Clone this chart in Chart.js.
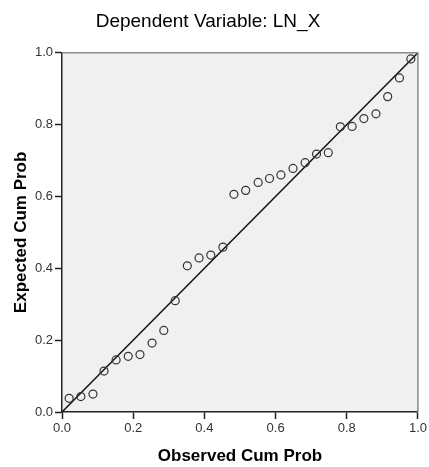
<!DOCTYPE html>
<html>
<head>
<meta charset="utf-8">
<script src="https://cdn.jsdelivr.net/npm/chart.js@4.4.1/dist/chart.umd.min.js"></script>
<style>
  html, body { margin: 0; padding: 0; background: #fff; }
  #wrap { width: 429px; height: 467px; }
</style>
</head>
<body>
<div id="wrap"><canvas id="ppPlot"></canvas></div>
<script>
// observed vs expected cumulative probability
const observedCum = [0.02, 0.053, 0.087, 0.118, 0.152, 0.186, 0.219, 0.253, 0.286, 0.318, 0.352, 0.385, 0.418, 0.452,
  0.483, 0.516, 0.551, 0.583, 0.615, 0.649, 0.683, 0.715, 0.748, 0.782, 0.815, 0.848, 0.882, 0.915, 0.948, 0.98]
const expectedCum = [0.038, 0.043, 0.05, 0.114, 0.145, 0.155, 0.16, 0.192, 0.227, 0.31, 0.407, 0.429, 0.437, 0.459,
  0.606, 0.617, 0.639, 0.65, 0.66, 0.678, 0.694, 0.718, 0.722, 0.794, 0.795, 0.817, 0.83, 0.878, 0.93, 0.983]
const refLine = [0, 1]
const tickValues = [0, 0.2, 0.4, 0.6, 0.8, 1.0]

const FONT = "'Liberation Sans', Arial, sans-serif"

const plotBg = {
    id: 'plotBg',
    beforeDraw(chart) {
        const { ctx, chartArea: a } = chart
        ctx.save()
        ctx.fillStyle = '#f0f0f0'
        ctx.fillRect(a.left, a.top, a.right - a.left, a.bottom - a.top)
        ctx.restore()
    },
    afterDraw(chart) {
        const { ctx, chartArea: a } = chart
        ctx.save()
        ctx.strokeStyle = '#8a8a8a'
        ctx.lineWidth = 1.5
        ctx.beginPath()
        ctx.moveTo(a.left, a.top)
        ctx.lineTo(a.right, a.top)
        ctx.lineTo(a.right, a.bottom)
        ctx.stroke()
        ctx.restore()
    }
}

new Chart(document.getElementById('ppPlot'), {
    type: 'scatter',
    data: {
        datasets: [{
            data: observedCum.map((x, i) => ({ x: x, y: expectedCum[i] })),
            pointStyle: 'circle',
            pointRadius: 4,
            pointBackgroundColor: 'rgba(0,0,0,0)',
            pointBorderColor: '#333',
            pointBorderWidth: 1.2,
            showLine: false
        }, {
            data: refLine.map(v => ({ x: v, y: v })),
            showLine: true,
            borderColor: '#111',
            borderWidth: 1.5,
            pointRadius: 0
        }]
    },
    options: {
        responsive: true,
        maintainAspectRatio: false,
        animation: false,
        // negative left padding only to nudge the title a little left, y axis width makes up for it
        layout: { padding: { left: -4, right: 9, top: 0, bottom: 0 } },
        plugins: {
            legend: { display: false },
            tooltip: { enabled: false },
            title: {
                display: true,
                text: 'Dependent Variable: LN_X',
                color: '#000',
                font: { family: FONT, size: 19, weight: 'normal' },
                padding: { top: 10, bottom: 20 }
            }
        },
        scales: {
            x: {
                type: 'linear',
                min: 0,
                max: 1,
                afterFit: s => { s.height = 55 },
                afterBuildTicks: s => { s.ticks = tickValues.map(v => ({ value: v })) },
                grid: { drawOnChartArea: false, tickLength: 7, color: '#222', tickWidth: 1.5 },
                border: { color: '#222', width: 1.5 },
                ticks: {
                    color: '#333',
                    padding: 2,
                    font: { family: FONT, size: 13 },
                    callback: v => v.toFixed(1)
                },
                title: {
                    display: true,
                    text: 'Observed Cum Prob',
                    color: '#000',
                    font: { family: FONT, size: 17, weight: 'bold' },
                    padding: { top: 0, bottom: 0 }
                }
            },
            y: {
                type: 'linear',
                min: 0,
                max: 1,
                afterFit: s => { s.width = 66 },
                afterBuildTicks: s => { s.ticks = tickValues.map(v => ({ value: v })) },
                grid: { drawOnChartArea: false, tickLength: 7, color: '#222', tickWidth: 1.5 },
                border: { color: '#222', width: 1.5 },
                ticks: {
                    color: '#333',
                    padding: 2,
                    font: { family: FONT, size: 13 },
                    callback: v => v.toFixed(1)
                },
                title: {
                    display: true,
                    text: 'Expected Cum Prob',
                    color: '#000',
                    font: { family: FONT, size: 17, weight: 'bold' },
                    padding: { top: 15, bottom: 0 }
                }
            }
        }
    },
    plugins: [plotBg]
})
</script>
</body>
</html>
